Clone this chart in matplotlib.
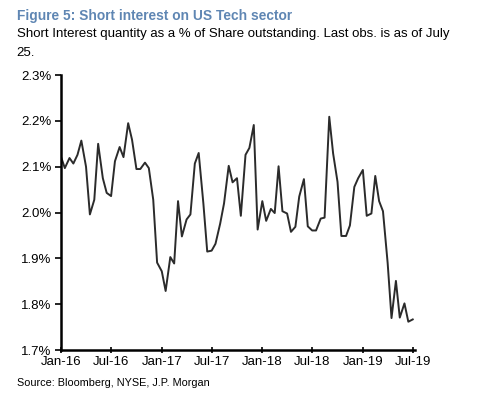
import numpy as np
import pandas as pd
import matplotlib
matplotlib.use("Agg")
import matplotlib.pyplot as plt
from matplotlib.ticker import FuncFormatter

plt.rcParams['font.family'] = ['Liberation Sans', 'DejaVu Sans']

# short interest, % of shares outstanding, semi-monthly obs Jan-16 .. Jul-19
short_int = [2.122, 2.097, 2.119, 2.107, 2.126, 2.157, 2.100, 1.996, 2.028, 2.150,
             2.075, 2.043, 2.036, 2.112, 2.143, 2.121, 2.195, 2.159, 2.095, 2.095,
             2.109, 2.097, 2.028, 1.891, 1.872, 1.829, 1.903, 1.889, 2.025, 1.948,
             1.985, 1.996, 2.107, 2.130, 2.020, 1.915, 1.917, 1.932, 1.976, 2.020,
             2.102, 2.066, 2.075, 1.993, 2.126, 2.141, 2.191, 1.963, 2.025, 1.982,
             2.008, 1.999, 2.101, 2.003, 1.998, 1.958, 1.969, 2.035, 2.073, 1.970,
             1.961, 1.961, 1.987, 1.989, 2.209, 2.129, 2.067, 1.949, 1.949, 1.972,
             2.056, 2.075, 2.093, 1.993, 1.998, 2.080, 2.025, 2.003, 1.890, 1.770,
             1.851, 1.771, 1.802, 1.762, 1.767]
dates = pd.date_range("2016-01-01", "2019-07-01", freq="SMS")
tick_dates = pd.to_datetime(["2016-01-01", "2016-07-01", "2017-01-01", "2017-07-01",
                             "2018-01-01", "2018-07-01", "2019-01-01", "2019-07-01"])
tick_labels = ["Jan-16", "Jul-16", "Jan-17", "Jul-17", "Jan-18", "Jul-18", "Jan-19", "Jul-19"]

fig = plt.figure(figsize=(4.8, 3.97), dpi=100)
ax = fig.add_axes([0.127, 0.118, 0.738, 0.693])

ax.plot(dates, short_int, color='#2b2b2b', lw=1.4)

ax.set_ylim(1.7, 2.3)
ax.set_yticks(np.arange(1.7, 2.31, 0.1))
ax.yaxis.set_major_formatter(FuncFormatter(lambda v, p: f"{v:.1f}%"))
ax.set_xlim(pd.Timestamp("2016-01-01"), pd.Timestamp("2019-07-10"))
ax.set_xticks(tick_dates)
ax.set_xticklabels(tick_labels)

for s in ['top', 'right']:
    ax.spines[s].set_visible(False)
for s in ['left', 'bottom']:
    ax.spines[s].set_linewidth(1.8)
    ax.spines[s].set_color('black')
ax.tick_params(axis='y', direction='out', length=4, width=1.2, labelsize=9.5, pad=3)
ax.tick_params(axis='x', direction='inout', length=5, width=1.2, labelsize=9.5, pad=2)

fig.text(0.035, 0.978, "Figure 5: Short interest on US Tech sector", fontsize=9.9,
         fontweight='bold', color='#5f86b3', va='top')
fig.text(0.035, 0.93, "Short Interest quantity as a % of Share outstanding. Last obs. is as of July\n25.",
         fontsize=9.5, color='black', va='top', linespacing=1.75)
fig.text(0.035, 0.028, "Source: Bloomberg, NYSE, J.P. Morgan", fontsize=7.8, color='black')

fig.savefig("out.png", dpi=100)
